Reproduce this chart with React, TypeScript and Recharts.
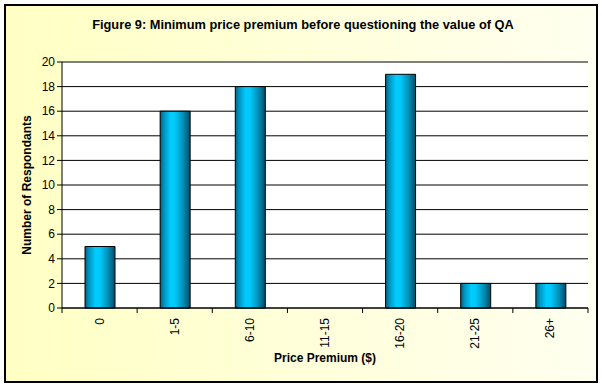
import React from "react";
import {
  BarChart,
  Bar,
  CartesianGrid,
  XAxis,
  YAxis,
  Label,
  ReferenceLine,
} from "recharts";

const categories = ["0", "1-5", "6-10", "11-15", "16-20", "21-25", "26+"];
const respondents = [5, 16, 18, 0, 19, 2, 2];
const yTicks = [0, 2, 4, 6, 8, 10, 12, 14, 16, 18, 20];

const data = categories.map((c, i) => ({ range: c, count: respondents[i] }));

const FONT = "'Liberation Sans', Arial, sans-serif";

function RangeTick(props: any) {
  const { x, y, payload, index, visibleTicksCount } = props;
  const half = payload && payload.offset ? payload.offset : 526 / 14;
  const last = index === (visibleTicksCount ?? categories.length) - 1;
  return (
    <g>
      <line x1={x - half} y1={y - 8} x2={x - half} y2={y - 3} stroke="#000" />
      {last && (
        <line x1={x + half} y1={y - 8} x2={x + half} y2={y - 3} stroke="#000" />
      )}
      <text
        x={x}
        y={y + 2}
        transform={`rotate(-90, ${x}, ${y + 2})`}
        textAnchor="end"
        dominantBaseline="central"
        fontFamily={FONT}
        fontSize={12}
        fill="#000"
      >
        {payload.value}
      </text>
    </g>
  );
}

export default function App() {
  return (
    <div
      style={{
        position: "absolute",
        left: 0,
        top: 0,
        width: 602,
        height: 386,
        background: "#fff",
      }}
    >
      <div
        style={{
          position: "absolute",
          left: 4,
          top: 4,
          width: 590,
          height: 375,
          border: "2px solid #000",
          background: "linear-gradient(to right, #ffffc4, #fffff0)",
        }}
      />
      <div
        style={{
          position: "absolute",
          left: 2,
          top: 17,
          width: 602,
          textAlign: "center",
          fontFamily: FONT,
          fontWeight: "bold",
          fontSize: 12.8,
          color: "#000",
        }}
      >
        Figure 9: Minimum price premium before questioning the value of QA
      </div>
      <div style={{ position: "absolute", left: 0, top: 0 }}>
        <BarChart
          width={602}
          height={386}
          data={data}
          margin={{ top: 62, right: 14, left: 22, bottom: 18 }}
        >
          <defs>
            <linearGradient id="cyl" x1="0" y1="0" x2="1" y2="0">
              <stop offset="0" stopColor="#005f80" />
              <stop offset="0.12" stopColor="#0092bd" />
              <stop offset="0.35" stopColor="#00ccff" />
              <stop offset="0.5" stopColor="#00c8fa" />
              <stop offset="0.75" stopColor="#0093bb" />
              <stop offset="1" stopColor="#004c68" />
            </linearGradient>
          </defs>
          <CartesianGrid
            vertical={false}
            stroke="#000"
            fill="#fff"
            strokeWidth={1}
          />
          <ReferenceLine y={20} stroke="#808080" />
          <XAxis
            dataKey="range"
            height={60}
            axisLine={{ stroke: "#000" }}
            tickLine={false}
            interval={0}
            tick={<RangeTick />}
          >
            <Label
              value="Price Premium ($)"
              position="insideBottom"
              offset={6}
              style={{
                fontFamily: FONT,
                fontWeight: "bold",
                fontSize: 12,
                fill: "#000",
              }}
            />
          </XAxis>
          <YAxis
            width={40}
            domain={[0, 20]}
            ticks={yTicks}
            interval={0}
            axisLine={{ stroke: "#000" }}
            tickLine={{ stroke: "#000" }}
            tickSize={5}
            tick={{ fontFamily: FONT, fontSize: 12, fill: "#000" }}
          >
            <Label
              value="Number of Respondants"
              angle={-90}
              position="insideLeft"
              offset={5}
              style={{
                textAnchor: "middle",
                fontFamily: FONT,
                fontWeight: "bold",
                fontSize: 12,
                fill: "#000",
              }}
            />
          </YAxis>
          <YAxis
            yAxisId="edge"
            orientation="right"
            width={0}
            domain={[0, 20]}
            tick={false}
            tickLine={false}
            axisLine={{ stroke: "#808080" }}
          />
          <Bar
            dataKey="count"
            barSize={30}
            fill="url(#cyl)"
            stroke="#000"
            strokeWidth={1}
            isAnimationActive={false}
          />
        </BarChart>
      </div>
    </div>
  );
}
